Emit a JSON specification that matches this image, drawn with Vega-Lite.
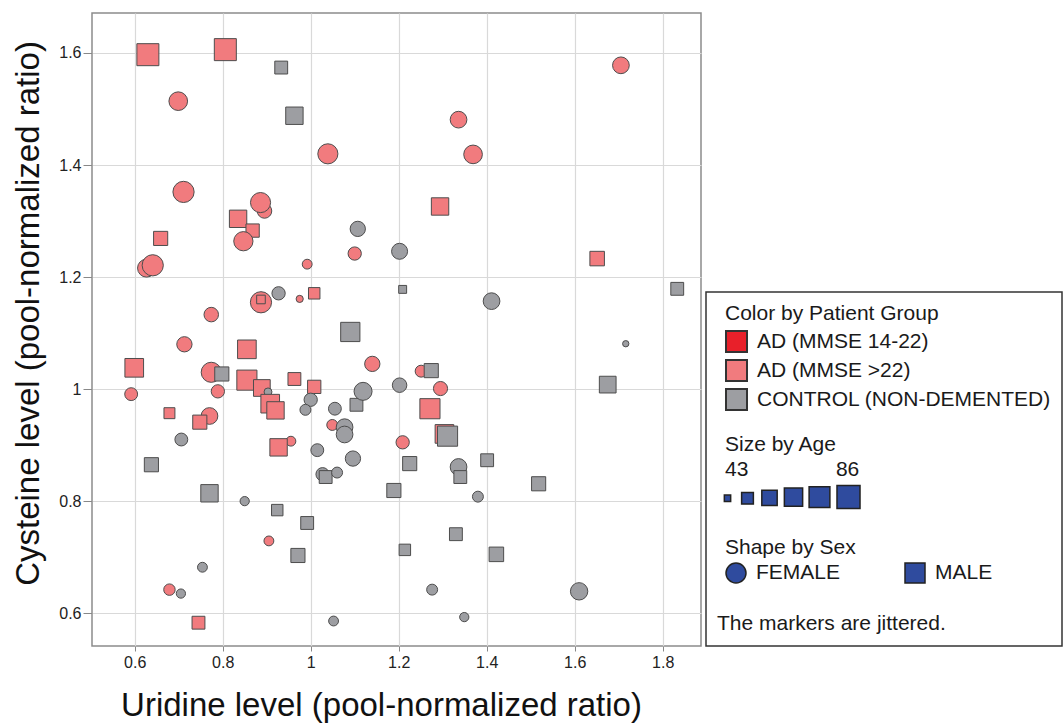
{
 "$schema": "https://vega.github.io/schema/vega-lite/v6.json",
 "background": "white",
 "padding": {"left": 12, "top": 12, "right": 0, "bottom": 0},
 "autosize": {"type": "pad"},
 "data": {"values": [
  {"u":0.630,"c":1.597,"g":"AD (MMSE >22)","s":"MALE","a":82},
  {"u":0.806,"c":1.606,"g":"AD (MMSE >22)","s":"MALE","a":82},
  {"u":0.933,"c":1.574,"g":"CONTROL (NON-DEMENTED)","s":"MALE","a":54},
  {"u":0.963,"c":1.488,"g":"CONTROL (NON-DEMENTED)","s":"MALE","a":66},
  {"u":0.699,"c":1.514,"g":"AD (MMSE >22)","s":"FEMALE","a":70},
  {"u":1.039,"c":1.420,"g":"AD (MMSE >22)","s":"FEMALE","a":75},
  {"u":0.711,"c":1.352,"g":"AD (MMSE >22)","s":"FEMALE","a":79},
  {"u":0.895,"c":1.318,"g":"AD (MMSE >22)","s":"FEMALE","a":58},
  {"u":0.886,"c":1.333,"g":"AD (MMSE >22)","s":"FEMALE","a":75},
  {"u":0.835,"c":1.304,"g":"AD (MMSE >22)","s":"MALE","a":66},
  {"u":0.868,"c":1.283,"g":"AD (MMSE >22)","s":"MALE","a":55},
  {"u":0.847,"c":1.264,"g":"AD (MMSE >22)","s":"FEMALE","a":72},
  {"u":0.659,"c":1.269,"g":"AD (MMSE >22)","s":"MALE","a":57},
  {"u":0.627,"c":1.216,"g":"AD (MMSE >22)","s":"FEMALE","a":68},
  {"u":0.641,"c":1.221,"g":"AD (MMSE >22)","s":"FEMALE","a":79},
  {"u":1.107,"c":1.286,"g":"CONTROL (NON-DEMENTED)","s":"FEMALE","a":60},
  {"u":1.100,"c":1.242,"g":"AD (MMSE >22)","s":"FEMALE","a":55},
  {"u":1.202,"c":1.246,"g":"CONTROL (NON-DEMENTED)","s":"FEMALE","a":62},
  {"u":0.992,"c":1.223,"g":"AD (MMSE >22)","s":"FEMALE","a":48},
  {"u":0.927,"c":1.171,"g":"CONTROL (NON-DEMENTED)","s":"FEMALE","a":55},
  {"u":0.975,"c":1.161,"g":"AD (MMSE >22)","s":"FEMALE","a":44},
  {"u":1.008,"c":1.171,"g":"AD (MMSE >22)","s":"MALE","a":51},
  {"u":0.887,"c":1.155,"g":"AD (MMSE >22)","s":"FEMALE","a":79},
  {"u":0.887,"c":1.160,"g":"AD (MMSE >22)","s":"MALE","a":46},
  {"u":0.774,"c":1.133,"g":"AD (MMSE >22)","s":"FEMALE","a":58},
  {"u":1.090,"c":1.102,"g":"CONTROL (NON-DEMENTED)","s":"MALE","a":72},
  {"u":1.705,"c":1.578,"g":"AD (MMSE >22)","s":"FEMALE","a":64},
  {"u":1.336,"c":1.481,"g":"AD (MMSE >22)","s":"FEMALE","a":64},
  {"u":1.369,"c":1.419,"g":"AD (MMSE >22)","s":"FEMALE","a":70},
  {"u":1.294,"c":1.326,"g":"AD (MMSE >22)","s":"MALE","a":66},
  {"u":1.651,"c":1.233,"g":"AD (MMSE >22)","s":"MALE","a":58},
  {"u":1.209,"c":1.178,"g":"CONTROL (NON-DEMENTED)","s":"MALE","a":45},
  {"u":1.411,"c":1.157,"g":"CONTROL (NON-DEMENTED)","s":"FEMALE","a":64},
  {"u":1.833,"c":1.179,"g":"CONTROL (NON-DEMENTED)","s":"MALE","a":54},
  {"u":0.713,"c":1.080,"g":"AD (MMSE >22)","s":"FEMALE","a":60},
  {"u":0.855,"c":1.071,"g":"AD (MMSE >22)","s":"MALE","a":70},
  {"u":1.140,"c":1.045,"g":"AD (MMSE >22)","s":"FEMALE","a":60},
  {"u":0.599,"c":1.038,"g":"AD (MMSE >22)","s":"MALE","a":70},
  {"u":0.774,"c":1.030,"g":"AD (MMSE >22)","s":"FEMALE","a":75},
  {"u":0.798,"c":1.027,"g":"CONTROL (NON-DEMENTED)","s":"MALE","a":57},
  {"u":0.855,"c":1.016,"g":"AD (MMSE >22)","s":"MALE","a":75},
  {"u":0.889,"c":1.002,"g":"AD (MMSE >22)","s":"MALE","a":64},
  {"u":0.903,"c":0.995,"g":"CONTROL (NON-DEMENTED)","s":"FEMALE","a":45},
  {"u":0.908,"c":0.974,"g":"AD (MMSE >22)","s":"MALE","a":70},
  {"u":0.920,"c":0.962,"g":"AD (MMSE >22)","s":"MALE","a":66},
  {"u":0.963,"c":1.018,"g":"AD (MMSE >22)","s":"MALE","a":54},
  {"u":1.008,"c":1.004,"g":"AD (MMSE >22)","s":"MALE","a":55},
  {"u":1.000,"c":0.981,"g":"CONTROL (NON-DEMENTED)","s":"FEMALE","a":55},
  {"u":0.988,"c":0.963,"g":"CONTROL (NON-DEMENTED)","s":"FEMALE","a":50},
  {"u":0.592,"c":0.991,"g":"AD (MMSE >22)","s":"FEMALE","a":54},
  {"u":0.789,"c":0.996,"g":"AD (MMSE >22)","s":"FEMALE","a":55},
  {"u":0.679,"c":0.957,"g":"AD (MMSE >22)","s":"MALE","a":50},
  {"u":0.770,"c":0.952,"g":"AD (MMSE >22)","s":"FEMALE","a":64},
  {"u":0.748,"c":0.941,"g":"AD (MMSE >22)","s":"MALE","a":57},
  {"u":0.706,"c":0.910,"g":"CONTROL (NON-DEMENTED)","s":"FEMALE","a":54},
  {"u":0.955,"c":0.907,"g":"AD (MMSE >22)","s":"FEMALE","a":48},
  {"u":0.927,"c":0.896,"g":"AD (MMSE >22)","s":"MALE","a":66},
  {"u":1.055,"c":0.965,"g":"CONTROL (NON-DEMENTED)","s":"FEMALE","a":54},
  {"u":1.104,"c":0.972,"g":"CONTROL (NON-DEMENTED)","s":"MALE","a":54},
  {"u":1.119,"c":0.996,"g":"CONTROL (NON-DEMENTED)","s":"FEMALE","a":68},
  {"u":1.202,"c":1.007,"g":"CONTROL (NON-DEMENTED)","s":"FEMALE","a":58},
  {"u":1.049,"c":0.936,"g":"AD (MMSE >22)","s":"FEMALE","a":50},
  {"u":1.077,"c":0.932,"g":"CONTROL (NON-DEMENTED)","s":"FEMALE","a":64},
  {"u":1.077,"c":0.919,"g":"CONTROL (NON-DEMENTED)","s":"FEMALE","a":64},
  {"u":1.015,"c":0.891,"g":"CONTROL (NON-DEMENTED)","s":"FEMALE","a":54},
  {"u":1.096,"c":0.876,"g":"CONTROL (NON-DEMENTED)","s":"FEMALE","a":60},
  {"u":1.027,"c":0.848,"g":"CONTROL (NON-DEMENTED)","s":"FEMALE","a":55},
  {"u":1.034,"c":0.843,"g":"CONTROL (NON-DEMENTED)","s":"MALE","a":54},
  {"u":1.060,"c":0.851,"g":"CONTROL (NON-DEMENTED)","s":"FEMALE","a":50},
  {"u":1.209,"c":0.905,"g":"AD (MMSE >22)","s":"FEMALE","a":55},
  {"u":0.638,"c":0.865,"g":"CONTROL (NON-DEMENTED)","s":"MALE","a":57},
  {"u":0.770,"c":0.814,"g":"CONTROL (NON-DEMENTED)","s":"MALE","a":66},
  {"u":0.850,"c":0.800,"g":"CONTROL (NON-DEMENTED)","s":"FEMALE","a":47},
  {"u":0.924,"c":0.784,"g":"CONTROL (NON-DEMENTED)","s":"MALE","a":51},
  {"u":0.992,"c":0.761,"g":"CONTROL (NON-DEMENTED)","s":"MALE","a":54},
  {"u":0.905,"c":0.729,"g":"AD (MMSE >22)","s":"FEMALE","a":48},
  {"u":0.971,"c":0.703,"g":"CONTROL (NON-DEMENTED)","s":"MALE","a":57},
  {"u":0.754,"c":0.682,"g":"CONTROL (NON-DEMENTED)","s":"FEMALE","a":48},
  {"u":0.679,"c":0.642,"g":"AD (MMSE >22)","s":"FEMALE","a":51},
  {"u":0.705,"c":0.635,"g":"CONTROL (NON-DEMENTED)","s":"FEMALE","a":47},
  {"u":0.745,"c":0.583,"g":"AD (MMSE >22)","s":"MALE","a":54},
  {"u":1.052,"c":0.586,"g":"CONTROL (NON-DEMENTED)","s":"FEMALE","a":48},
  {"u":1.189,"c":0.819,"g":"CONTROL (NON-DEMENTED)","s":"MALE","a":57},
  {"u":1.214,"c":0.713,"g":"CONTROL (NON-DEMENTED)","s":"MALE","a":51},
  {"u":1.251,"c":1.032,"g":"AD (MMSE >22)","s":"FEMALE","a":52},
  {"u":1.274,"c":1.033,"g":"CONTROL (NON-DEMENTED)","s":"MALE","a":57},
  {"u":1.295,"c":1.001,"g":"AD (MMSE >22)","s":"FEMALE","a":57},
  {"u":1.271,"c":0.965,"g":"AD (MMSE >22)","s":"MALE","a":75},
  {"u":1.304,"c":0.920,"g":"AD (MMSE >22)","s":"MALE","a":70},
  {"u":1.311,"c":0.916,"g":"CONTROL (NON-DEMENTED)","s":"MALE","a":75},
  {"u":1.225,"c":0.867,"g":"CONTROL (NON-DEMENTED)","s":"MALE","a":57},
  {"u":1.336,"c":0.861,"g":"CONTROL (NON-DEMENTED)","s":"FEMALE","a":64},
  {"u":1.340,"c":0.843,"g":"CONTROL (NON-DEMENTED)","s":"MALE","a":54},
  {"u":1.401,"c":0.873,"g":"CONTROL (NON-DEMENTED)","s":"MALE","a":54},
  {"u":1.518,"c":0.831,"g":"CONTROL (NON-DEMENTED)","s":"MALE","a":57},
  {"u":1.380,"c":0.808,"g":"CONTROL (NON-DEMENTED)","s":"FEMALE","a":50},
  {"u":1.330,"c":0.741,"g":"CONTROL (NON-DEMENTED)","s":"MALE","a":54},
  {"u":1.422,"c":0.705,"g":"CONTROL (NON-DEMENTED)","s":"MALE","a":58},
  {"u":1.276,"c":0.642,"g":"CONTROL (NON-DEMENTED)","s":"FEMALE","a":50},
  {"u":1.349,"c":0.593,"g":"CONTROL (NON-DEMENTED)","s":"FEMALE","a":47},
  {"u":1.610,"c":0.639,"g":"CONTROL (NON-DEMENTED)","s":"FEMALE","a":66},
  {"u":1.675,"c":1.008,"g":"CONTROL (NON-DEMENTED)","s":"MALE","a":64},
  {"u":1.716,"c":1.081,"g":"CONTROL (NON-DEMENTED)","s":"FEMALE","a":43}
 ]},
 "hconcat": [
  {
   "width": 609,
   "height": 633,
   "view": {"stroke": "#8c8c8c", "strokeWidth": 1.5},
   "mark": {"type": "point", "filled": true, "opacity": 1, "stroke": "#4d4d4d", "strokeWidth": 1},
   "encoding": {
    "x": {"field": "u", "type": "quantitative",
     "scale": {"domain": [0.503, 1.887], "nice": false, "zero": false},
     "axis": {"title": "Uridine level (pool-normalized ratio)", "values": [0.6, 0.8, 1, 1.2, 1.4, 1.6, 1.8], "format": "~g", "titleX": 289, "titlePadding": 19, "tickSize": 5, "labelPadding": 3}},
    "y": {"field": "c", "type": "quantitative",
     "scale": {"domain": [0.5414, 1.6714], "nice": false, "zero": false},
     "axis": {"title": "Cysteine level (pool-normalized ratio)", "values": [0.6, 0.8, 1, 1.2, 1.4, 1.6], "format": "~g", "titleY": 300, "titlePadding": 13, "tickSize": 9, "labelPadding": 2}},
    "color": {"field": "g", "type": "nominal",
     "scale": {"domain": ["AD (MMSE 14-22)", "AD (MMSE >22)", "CONTROL (NON-DEMENTED)"], "range": ["#e8202a", "#f17b7e", "#9d9ea2"]},
     "legend": {"title": "Color by Patient Group", "orient": "none", "legendX": 633, "legendY": 290,
      "symbolType": "square", "symbolSize": 441, "titlePadding": 6, "rowPadding": 0, "labelOffset": 9,
      "symbolStrokeColor": "#333333", "symbolStrokeWidth": 2, "symbolOpacity": 1}},
    "size": {"field": "a", "type": "quantitative",
     "scale": {"domain": [43, 86], "range": [40, 530], "zero": false},
     "legend": {"title": ["Size by Age", "43\u00a0\u00a0\u00a0\u00a0\u00a0\u00a0\u00a0\u00a0\u00a0\u00a0\u00a0\u00a0\u00a0\u00a0\u00a086"], "orient": "none", "legendX": 633, "legendY": 421,
      "direction": "horizontal", "values": [43, 51.6, 60.2, 68.8, 77.4, 86], "symbolType": "square",
      "labelExpr": "''", "labelOffset": 0, "columnPadding": 0, "symbolOffset": -8, "titleLineHeight": 25, "titlePadding": 4,
      "symbolFillColor": "#2f4b9e", "symbolStrokeColor": "#222222", "symbolStrokeWidth": 1.5, "symbolOpacity": 1}},
    "shape": {"field": "s", "type": "nominal",
     "scale": {"domain": ["FEMALE", "MALE"], "range": ["circle", "square"]},
     "legend": {"title": "Shape by Sex", "orient": "none", "legendX": 633, "legendY": 524,
      "direction": "horizontal", "symbolSize": 400, "labelOffset": 9, "columnPadding": 61, "titlePadding": 4,
      "symbolFillColor": "#2f4b9e", "symbolStrokeColor": "#222222", "symbolStrokeWidth": 1.5, "symbolOpacity": 1}}
   }
  },
  {
   "vconcat": [
    {"width": 356, "height": 279, "view": {"stroke": null}, "data": {"values": []}, "mark": "point"},
    {"width": 356, "height": 354, "view": {"stroke": "#333333", "strokeWidth": 1.5}, "data": {"values": []}, "mark": "point",
     "title": {"text": "The markers are jittered.", "orient": "bottom", "anchor": "start", "frame": "group", "offset": -33, "dx": 11, "fontSize": 21, "fontWeight": "normal", "color": "#1a1a1a"}}
   ],
   "spacing": 0,
   "bounds": "flush"
  }
 ],
 "spacing": 5,
 "bounds": "flush",
 "config": {
  "font": "Liberation Sans",
  "axis": {"labelFontSize": 16, "labelColor": "#222222", "titleFontSize": 33, "titleFontWeight": "normal", "titleColor": "#111111",
   "tickColor": "#888888", "domain": false, "gridColor": "#d9d9d9", "gridWidth": 1.2},
  "legend": {"titleFontSize": 21, "titleFontWeight": "normal", "titleColor": "#1a1a1a", "labelFontSize": 21, "labelColor": "#1a1a1a",
   "padding": 0, "labelLimit": 400, "titleLimit": 400}
 }
}
